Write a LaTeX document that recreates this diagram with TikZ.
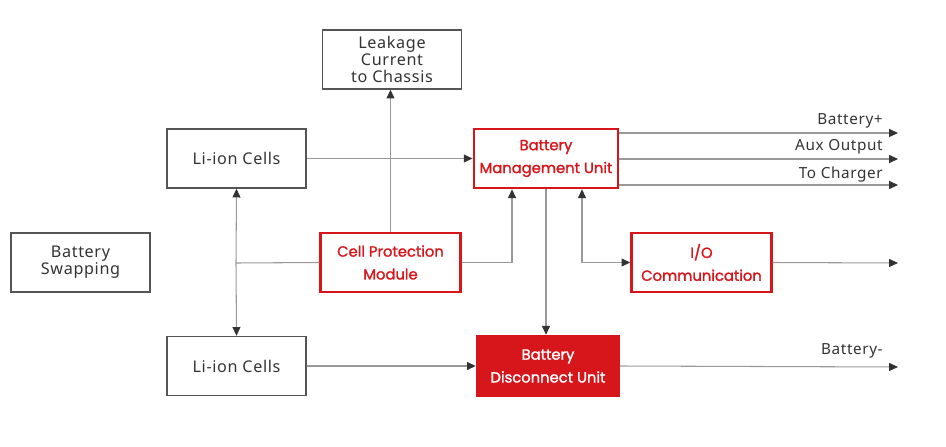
\documentclass[tikz,border=0pt]{standalone}
\usepackage{fontspec}
\setmainfont{Noto Sans}[LetterSpace=4]
\newfontfamily\redfont{Poppins}[FakeBold=1.5]
\usetikzlibrary{arrows.meta}
\definecolor{bmsred}{HTML}{D7161C}
\definecolor{wiregray}{HTML}{999999}
\definecolor{boxgray}{HTML}{555555}
\definecolor{textgray}{HTML}{333333}

\begin{document}
\begin{tikzpicture}[x=0.02cm,y=-0.02cm]

            \tikzset{plainbox/.style={draw=boxgray, line width=0.8pt, minimum width=2.78cm, minimum height=1.18cm,
                       align=center, text=textgray, font=\fontsize{9.2}{9.8}\selectfont},
                     redbox/.style={draw=bmsred, line width=1.4pt, minimum width=2.8cm, minimum height=1.18cm,
                       align=center, text=bmsred, font=\redfont\fontsize{8.4}{13}\selectfont},
                     wire/.style={draw=wiregray, line width=0.6pt},
                     tip/.style={wire, -{Triangle[length=5pt,width=4.5pt,color=textgray]}},
                     lbl/.style={text=textgray, inner sep=0pt, anchor=base east, font=\fontsize{8.7}{11}\selectfont}}

            \useasboundingbox (0,0) rectangle (946,446);

            % boxes
            \node [plainbox] (leak) at (392, 59.5) {Leakage\\Current\\to Chassis};
            \node [plainbox] (cellsTop) at (236.5, 158.5) {Li-ion Cells};
            \node [plainbox] (swap) at (80.5, 262.5) {Battery\\Swapping};
            \node [plainbox] (cellsBot) at (236.5, 366) {Li-ion Cells};
            \node [redbox] (bmu) at (546, 158.5) {Battery\\Management Unit};
            \node [redbox] (cpm) at (390.5, 262.5) {Cell Protection\\Module};
            \node [redbox] (io) at (701.5, 262.5) {I/O\\Communication};
            \node [redbox, fill=bmsred, text=white, minimum width=2.84cm, minimum height=1.2cm] (bdu) at (548, 366) {Battery\\Disconnect Unit};

            % free ends
            \coordinate (split) at (236, 263);
            \coordinate (plusEnd) at (898, 133);
            \coordinate (auxEnd) at (898, 159);
            \coordinate (chgEnd) at (898, 185);
            \coordinate (ioEnd) at (898, 263);
            \coordinate (minusEnd) at (898, 367);

            % connectors
            \draw [tip] (cellsTop.east) -- (bmu.west);
            \draw [wire] (cpm.west) -- (split);
            \draw [tip] (split) -- (cellsTop.south);
            \draw [tip] (split) -- (cellsBot.north);
            \draw [tip] (cpm.north) -- (cpm.north |- leak.south);
            \draw [tip] (cpm.east) -| ([xshift=-0.68cm]bmu.south);
            \draw [tip] (bmu.south) -- (bmu.south |- bdu.north);
            \draw [tip, {Triangle[length=5pt,width=4.5pt,color=textgray]}-{Triangle[length=5pt,width=4.5pt,color=textgray]}]
                  ([xshift=0.72cm]bmu.south) |- (io.west);
            \draw [tip] (io.east) -- (ioEnd);
            \draw [tip] (bmu.east |- plusEnd) -- (plusEnd);
            \draw [tip] (bmu.east |- auxEnd) -- (auxEnd);
            \draw [tip] (bmu.east |- chgEnd) -- (chgEnd);
            \draw [tip] (cellsBot.east) -- (bdu.west);
            \draw [tip] (bdu.east) -- (minusEnd);

            % output labels
            \node [lbl] (plusLbl) at (883, 124) {Battery+};
            \node [lbl] (auxLbl) at (883, 151) {Aux Output};
            \node [lbl] (chgLbl) at (883, 178) {To Charger};
            \node [lbl] (minusLbl) at (883, 354) {Battery-};

        \end{tikzpicture}
\end{document}
